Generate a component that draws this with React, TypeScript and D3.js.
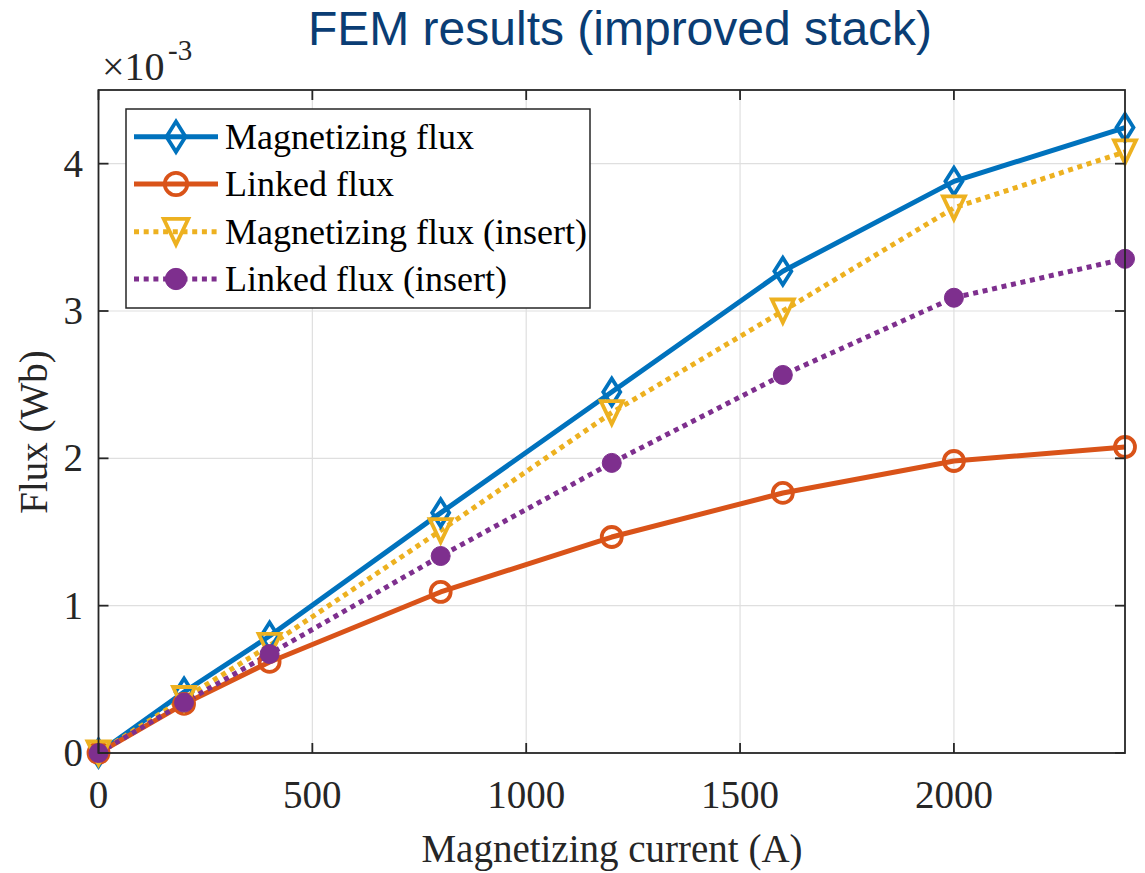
import React from "react";
import * as d3 from "d3";

// Magnetizing current (A)
const current = [0, 200, 400, 800, 1200, 1600, 2000, 2400];
// Flux values in units of 1e-3 Wb
const magnetizingFlux = [0, 0.414, 0.794, 1.63, 2.45, 3.27, 3.88, 4.245];
const linkedFlux = [0, 0.333, 0.618, 1.093, 1.466, 1.765, 1.982, 2.077];
const magnetizingFluxInsert = [0, 0.37, 0.73, 1.51, 2.31, 3.0, 3.70, 4.08];
const linkedFluxInsert = [0, 0.342, 0.672, 1.337, 1.969, 2.566, 3.09, 3.354];

const seriesNames = [
  "Magnetizing flux",
  "Linked flux",
  "Magnetizing flux (insert)",
  "Linked flux (insert)",
];
const xTicks = [0, 500, 1000, 1500, 2000];
const yTicks = [0, 1, 2, 3, 4];

const W = 1145;
const H = 873;
const left = 98.5;
const right = 1125;
const top = 90;
const bottom = 753;

const axisColor = "#262626";
const serif = "'Liberation Serif', 'Times New Roman', serif";

type Marker = "diamond" | "circle" | "triangle" | "dot";

const series: { name: string; values: number[]; color: string; dotted: boolean; marker: Marker }[] = [
  { name: seriesNames[0], values: magnetizingFlux, color: "#0072BD", dotted: false, marker: "diamond" },
  { name: seriesNames[1], values: linkedFlux, color: "#D95319", dotted: false, marker: "circle" },
  { name: seriesNames[2], values: magnetizingFluxInsert, color: "#EDB120", dotted: true, marker: "triangle" },
  { name: seriesNames[3], values: linkedFluxInsert, color: "#7E2F8E", dotted: true, marker: "dot" },
];

function MarkerShape({ kind, x, y, color, s = 1 }: { kind: Marker; x: number; y: number; color: string; s?: number }) {
  if (kind === "diamond") {
    return (
      <path
        d={`M${x},${y - 13.5 * s} L${x + 8.5 * s},${y} L${x},${y + 13.5 * s} L${x - 8.5 * s},${y} Z`}
        fill="none"
        stroke={color}
        strokeWidth={3.8}
      />
    );
  }
  if (kind === "circle") {
    return <circle cx={x} cy={y} r={10 * s} fill="none" stroke={color} strokeWidth={3.8} />;
  }
  if (kind === "triangle") {
    return (
      <path
        d={`M${x - 11 * s},${y - 11.5 * s} L${x + 11 * s},${y - 11.5 * s} L${x},${y + 11.5 * s} Z`}
        fill="none"
        stroke={color}
        strokeWidth={3.8}
        strokeLinejoin="miter"
      />
    );
  }
  return <circle cx={x} cy={y} r={9.5 * s} fill={color} stroke={color} strokeWidth={1} />;
}

export default function App() {
  const xScale = d3.scaleLinear().domain([0, 2400]).range([left, right]);
  const yScale = d3.scaleLinear().domain([0, 4.5]).range([bottom, top]);

  const line = d3
    .line<number>()
    .x((_, i) => xScale(current[i]))
    .y((v) => yScale(v));

  const tickLen = 10;
  const legendX = 126;
  const legendY = 109;
  const legendW = 464;
  const legendH = 199;
  const rowY = [136.7, 184, 231.7, 279];

  return (
    <svg
      width={W}
      height={H}
      style={{ position: "absolute", left: 0, top: 0, display: "block", background: "#fff" }}
    >
      <rect x={0} y={0} width={W} height={H} fill="#fff" />

      {/* grid */}
      <g stroke="#dfdfdf" strokeWidth={1.2}>
        {xTicks.map((t) => (
          <line key={"gx" + t} x1={xScale(t)} x2={xScale(t)} y1={top} y2={bottom} />
        ))}
        {yTicks.map((t) => (
          <line key={"gy" + t} x1={left} x2={right} y1={yScale(t)} y2={yScale(t)} />
        ))}
      </g>

      {/* data lines */}
      {series.map((s) => (
        <path
          key={"l" + s.name}
          d={line(s.values) || ""}
          fill="none"
          stroke={s.color}
          strokeWidth={5}
          strokeDasharray={s.dotted ? "5 4.7" : undefined}
          strokeLinejoin="round"
        />
      ))}

      {/* markers */}
      {series.map((s) => (
        <g key={"m" + s.name}>
          {s.values.map((v, i) => (
            <MarkerShape key={i} kind={s.marker} x={xScale(current[i])} y={yScale(v)} color={s.color} />
          ))}
        </g>
      ))}

      {/* axes box */}
      <rect x={left} y={top} width={right - left} height={bottom - top} fill="none" stroke={axisColor} strokeWidth={1.8} />

      {/* ticks */}
      <g stroke={axisColor} strokeWidth={1.8}>
        {xTicks.map((t) => (
          <g key={"tx" + t}>
            <line x1={xScale(t)} x2={xScale(t)} y1={bottom} y2={bottom - tickLen} />
            <line x1={xScale(t)} x2={xScale(t)} y1={top} y2={top + tickLen} />
          </g>
        ))}
        {yTicks.map((t) => (
          <g key={"ty" + t}>
            <line x1={left} x2={left + tickLen} y1={yScale(t)} y2={yScale(t)} />
            <line x1={right} x2={right - tickLen} y1={yScale(t)} y2={yScale(t)} />
          </g>
        ))}
      </g>

      {/* tick labels */}
      <g fontFamily={serif} fontSize={39} fill={axisColor}>
        {xTicks.map((t) => (
          <text key={"lx" + t} x={xScale(t)} y={808} textAnchor="middle">
            {t}
          </text>
        ))}
        {yTicks.map((t) => (
          <text key={"ly" + t} x={83} y={yScale(t) + 13} textAnchor="end">
            {t}
          </text>
        ))}
      </g>

      {/* exponent */}
      <g fontFamily={serif} fill={axisColor}>
        <text x={102} y={80} fontSize={40}>
          ×10
        </text>
        <text x={168} y={60} fontSize={29}>
          -3
        </text>
      </g>

      {/* axis labels */}
      <text x={612} y={862} textAnchor="middle" fontFamily={serif} fontSize={39} fill={axisColor}>
        Magnetizing current (A)
      </text>
      <text
        transform={`translate(47,432) rotate(-90)`}
        textAnchor="middle"
        fontFamily={serif}
        fontSize={39}
        fill={axisColor}
      >
        Flux (Wb)
      </text>

      {/* title */}
      <text
        x={620}
        y={45}
        textAnchor="middle"
        fontFamily="'Liberation Sans', Arial, sans-serif"
        fontSize={48}
        fill="#0a3d74"
      >
        FEM results (improved stack)
      </text>

      {/* legend */}
      <rect x={legendX} y={legendY} width={legendW} height={legendH} fill="#fff" stroke={axisColor} strokeWidth={1.5} />
      {series.map((s, i) => (
        <g key={"lg" + s.name}>
          <line
            x1={134}
            x2={218}
            y1={rowY[i]}
            y2={rowY[i]}
            stroke={s.color}
            strokeWidth={5}
            strokeDasharray={s.dotted ? "5 4.7" : undefined}
          />
          <MarkerShape kind={s.marker} x={176} y={rowY[i]} color={s.color} s={1.12} />
          <text x={225} y={rowY[i] + 12} fontFamily={serif} fontSize={36} fill="#000">
            {s.name}
          </text>
        </g>
      ))}
    </svg>
  );
}
